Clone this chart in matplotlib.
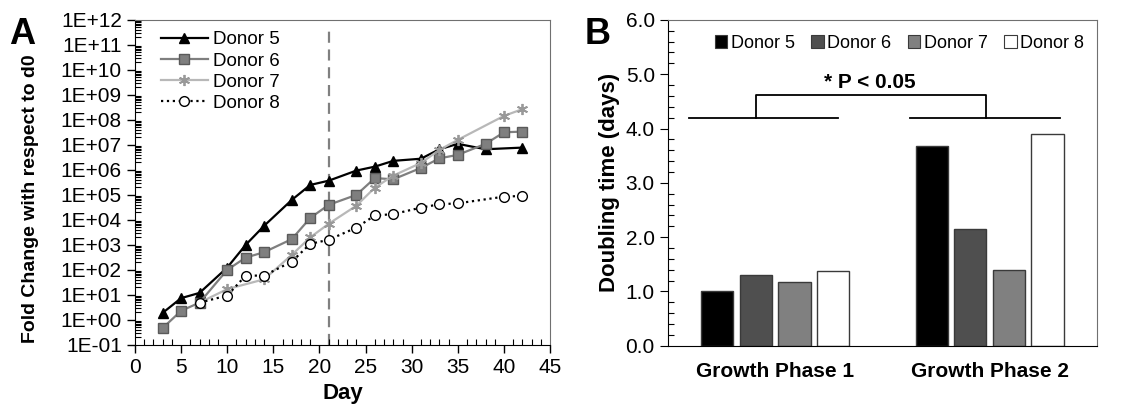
import numpy as np
import matplotlib
matplotlib.use('Agg')
import matplotlib.pyplot as plt
from matplotlib.ticker import LogLocator, FuncFormatter, MultipleLocator, NullFormatter
from matplotlib.patches import Patch

plt.rcParams['font.family'] = ['Liberation Sans', 'DejaVu Sans']

# panel A: fold change vs day
days5 = [3, 5, 7, 10, 12, 14, 17, 19, 21, 24, 26, 28, 31, 33, 35, 38, 42]
fold5 = [1.9, 7.4, 12, 124, 1000, 5800, 6.3e4, 2.5e5, 3.7e5, 9.4e5, 1.35e6, 2.3e6, 2.8e6, 6.7e6, 1.1e7, 6.7e6, 7.8e6]
days6 = [3, 5, 7, 10, 12, 14, 17, 19, 21, 24, 26, 28, 31, 33, 35, 38, 40, 42]
fold6 = [0.47, 2.3, 4.9, 100, 310, 510, 1700, 1.2e4, 4e4, 1e5, 4.7e5, 4.2e5, 1.2e6, 2.9e6, 4e6, 1.1e7, 3.2e7, 3.4e7]
days7 = [7, 10, 14, 17, 19, 21, 24, 26, 28, 31, 33, 35, 40, 42]
fold7 = [4.9, 17, 42, 400, 2000, 7000, 3.7e4, 1.95e5, 5.9e5, 1.9e6, 6.3e6, 1.6e7, 1.45e8, 2.7e8]
days8 = [7, 10, 12, 14, 17, 19, 21, 24, 26, 28, 31, 33, 35, 40, 42]
fold8 = [4.9, 9.4, 59, 59, 215, 1100, 1600, 4900, 1.5e4, 1.7e4, 3.1e4, 4.2e4, 4.6e4, 8.5e4, 9.1e4]

# panel B: doubling time
phases = ['Growth Phase 1', 'Growth Phase 2']
donors = ['Donor 5', 'Donor 6', 'Donor 7', 'Donor 8']
dt5 = [1.01, 3.68]
dt6 = [1.30, 2.15]
dt7 = [1.17, 1.39]
dt8 = [1.37, 3.90]

fig = plt.figure(figsize=(11.39, 4.15), dpi=100)

# ---- A ----
ax = fig.add_axes([0.1185, 0.169, 0.3645, 0.783])
ax.plot(days5, fold5, color='black', lw=1.6, marker='^', ms=7, label='Donor 5')
ax.plot(days6, fold6, color='#7f7f7f', lw=1.6, marker='s', ms=7, mfc='#7f7f7f', mec='#5a5a5a', label='Donor 6')
ax.plot(days7, fold7, color='#b8b8b8', lw=1.6, marker=(6, 2, 0), ms=8, mec='#999999', mew=1.3, label='Donor 7')
ax.plot(days8, fold8, color='black', lw=1.6, ls=':', marker='o', ms=7, mfc='white', mec='black', mew=1.0, label='Donor 8')
ax.axvline(21, ymin=0, ymax=0.97, color='#808080', lw=1.6, ls=(0, (5, 3)), zorder=0)

ax.set_yscale('log')
ax.set_ylim(1e-1, 1e12)
ax.set_xlim(0, 45)
ax.yaxis.set_major_locator(LogLocator(base=10, numticks=20))
ax.yaxis.set_minor_locator(LogLocator(base=10, subs=np.arange(2, 10), numticks=20))
ax.yaxis.set_minor_formatter(NullFormatter())
ax.yaxis.set_major_formatter(FuncFormatter(lambda v, p: '1E%+03d' % int(round(np.log10(v)))))
ax.xaxis.set_major_locator(MultipleLocator(5))
ax.xaxis.set_minor_locator(MultipleLocator(1))
ax.tick_params(which='major', direction='out', length=6, width=1, labelsize=15)
ax.tick_params(which='minor', direction='in', length=4, width=0.8)
for s in ['top', 'right']:
    ax.spines[s].set_color('#707070')
ax.set_xlabel('Day', fontsize=16, fontweight='bold', labelpad=4)
ax.set_ylabel('Fold Change with respect to d0', fontsize=14, fontweight='bold')
ax.yaxis.set_label_coords(-0.232, 0.45)
ax.legend(loc='upper left', bbox_to_anchor=(0.035, 1.0), frameon=False, fontsize=13.5,
          handlelength=2.5, handletextpad=0.3, labelspacing=0.22, borderaxespad=0.2)
fig.text(0.008, 0.895, 'A', fontsize=26, fontweight='bold')

# ---- B ----
bx = fig.add_axes([0.5865, 0.167, 0.3765, 0.785])
x = np.arange(len(phases))
w = 0.15
offs = [-0.27, -0.09, 0.09, 0.27]
cols = ['black', '#4f4f4f', '#808080', 'white']
for vals, off, c, lab in zip([dt5, dt6, dt7, dt8], offs, cols, donors):
    bx.bar(x + off, vals, width=w, color=c, edgecolor='#3a3a3a', lw=1, label=lab)
bx.set_xlim(-0.5, 1.5)
bx.set_ylim(0, 6)
bx.set_xticks(x)
bx.set_xticklabels(phases, fontsize=15, fontweight='bold')
bx.tick_params(axis='x', length=0, pad=12)
bx.yaxis.set_major_locator(MultipleLocator(1))
bx.yaxis.set_minor_locator(MultipleLocator(0.2))
bx.yaxis.set_major_formatter(FuncFormatter(lambda v, p: '%.1f' % v))
bx.tick_params(axis='y', which='major', direction='out', length=6, labelsize=15)
bx.tick_params(axis='y', which='minor', direction='in', length=4, width=0.8)
for s in ['top', 'right']:
    bx.spines[s].set_color('#707070')
bx.set_ylabel('Doubling time (days)', fontsize=16, fontweight='bold', labelpad=4)

# significance bracket
bx.plot([-0.40, 0.293], [4.2, 4.2], color='black', lw=1.3)
bx.plot([0.628, 1.33], [4.2, 4.2], color='black', lw=1.3)
bx.plot([-0.092, -0.092, 0.982, 0.982], [4.2, 4.62, 4.62, 4.2], color='black', lw=1.3)
bx.text(0.44, 4.85, '* P < 0.05', ha='center', va='center', fontsize=15, fontweight='bold')

handles = [Patch(facecolor=c, edgecolor='#3a3a3a', lw=0.8) for c in cols]
bx.legend(handles, donors, loc='upper center', bbox_to_anchor=(0.54, 1.005), ncol=4, frameon=False,
          fontsize=13, handlelength=0.7, handleheight=0.7, handletextpad=0.2, columnspacing=0.9)
fig.text(0.513, 0.895, 'B', fontsize=26, fontweight='bold')

fig.savefig('out.png', dpi=100)
